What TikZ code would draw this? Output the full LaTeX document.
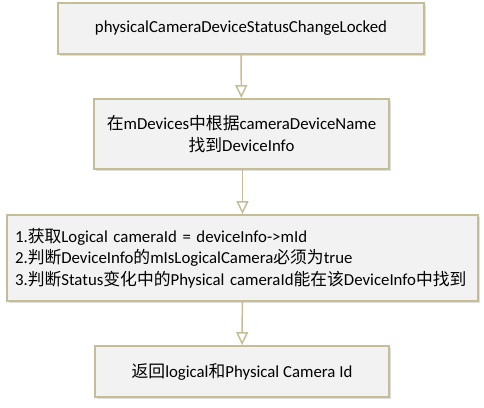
\documentclass[tikz,border=0pt]{standalone}
\usepackage{fontspec}
\setmainfont{Carlito}
\newfontfamily\cjk{Noto Sans CJK SC}
\newcommand{\zh}[1]{{\cjk #1}}
\usetikzlibrary{arrows.meta,shadows}
\definecolor{boxline}{HTML}{C4BD97}
\definecolor{boxfill}{HTML}{F2F2F2}
\begin{document}
\begin{tikzpicture}[x=1pt,y=-1pt,
  stepbox/.style={draw=boxline, line width=1.8pt, fill=boxfill,
    drop shadow={opacity=0.25, shadow xshift=2pt, shadow yshift=-2pt},
    inner sep=0pt, font=\fontsize{16.8}{21.5}\selectfont, align=center},
  flow/.style={draw=boxline, line width=1.5pt,
    -{Triangle[open, length=13pt, width=12pt, line width=1.5pt]}}]
\useasboundingbox (0,0) rectangle (484,407);
\node[stepbox, minimum width=366pt, minimum height=51pt] (lock) at (241,28.5)
  {physicalCameraDeviceStatusChangeLocked};
\node[stepbox, minimum width=295pt, minimum height=70pt] (find) at (241.5,134)
  {\zh{在}mDevices\zh{中根据}cameraDeviceName\\\zh{找到}DeviceInfo};
\node[stepbox, minimum width=471pt, minimum height=86pt, text width=455pt,
  align=left] (check) at (242.5,258)
  {1.\zh{获取}Logical cameraId = deviceInfo->mId\\
   2.\zh{判断}DeviceInfo\zh{的}mIsLogicalCamera\zh{必须为}true\\
   3.\zh{判断}Status\zh{变化中的}Physical cameraId\zh{能在该}DeviceInfo\zh{中找到}\\[-4pt]};
\node[stepbox, minimum width=294pt, minimum height=51pt] (ret) at (242,371.5)
  {\zh{返回}logical\zh{和}Physical Camera Id};
\draw[flow] (lock) -- (find);
\draw[flow] (find.south -| check.north) -- (check);
\draw[flow] (check) -- (ret);
\end{tikzpicture}
\end{document}
